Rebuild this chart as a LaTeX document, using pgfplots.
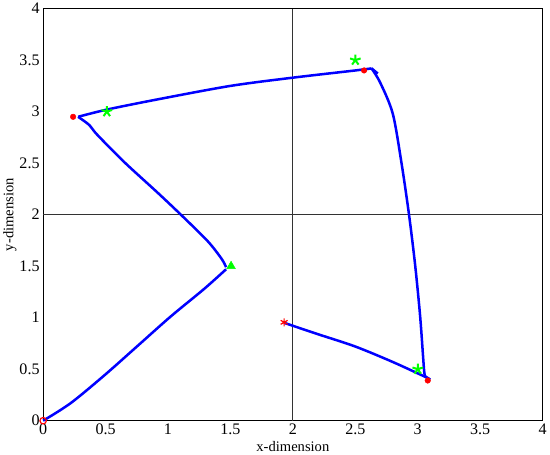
\documentclass[border=0pt]{standalone}
\usepackage{fontspec}
\setmainfont{Liberation Serif}
\usepackage{pgfplots}
\pgfplotsset{compat=1.18}
\begin{document}
\begin{tikzpicture}
\begin{axis}[
	width=497pt,
	height=410pt,
	scale only axis,
	xmin=0, xmax=4,
	ymin=0, ymax=4,
	xtick={0,0.5,...,4},
	ytick={0,0.5,...,4},
	major tick length=0pt,
	/pgf/number format/assume math mode=true,
	ticklabel style={font=\fontsize{16}{18}\selectfont},
	label style={font=\fontsize{14.5}{16}\selectfont},
	xlabel={x-dimension},
	ylabel={y-dimension},
	xlabel style={yshift=1pt},
	ylabel style={yshift=-4pt},
	axis line style={line width=0.8pt},
	clip=false]

	% quadrant lines
	\addplot[black!80, line width=1pt] coordinates {(2,0) (2,4)};
	\addplot[black!80, line width=1pt] coordinates {(0,2) (4,2)};

	% trajectory
	\addplot[blue, line width=2.5pt, smooth, tension=0.5] coordinates {
		(0,0) (0.22,0.17) (0.49,0.44) (0.76,0.73) (1.02,1.01) (1.29,1.28) (1.465,1.47)};
	\addplot[blue, line width=2.5pt, smooth, tension=0.5] coordinates {
		(1.465,1.49) (1.43,1.57) (1.32,1.74) (1.12,1.98) (0.92,2.21) (0.65,2.51) (0.43,2.78) (0.37,2.87) (0.28,2.95)};
	\addplot[blue, line width=2.5pt, smooth, tension=0.5] coordinates {
		(0.28,2.95) (0.51,3.02) (0.92,3.12) (1.5,3.25) (2.0,3.33) (2.5,3.40) (2.63,3.42)};
	\addplot[blue, line width=2.5pt] coordinates {(2.63,3.42) (2.68,3.37)};
	\addplot[blue, line width=2.5pt, smooth, tension=0.5] coordinates {
		(2.63,3.42) (2.7,3.28) (2.8,2.98) (2.87,2.5) (2.93,2.0) (2.98,1.5) (3.02,1.0) (3.05,0.5) (3.06,0.43)};
	\addplot[blue, line width=2.5pt] coordinates {(3.06,0.43) (3.1,0.40)};
	\addplot[blue, line width=2.5pt, smooth, tension=0.5] coordinates {
		(3.07,0.42) (2.8,0.57) (2.5,0.72) (2.2,0.84) (1.93,0.95)};

	% measured points
	\addplot[only marks, red, mark=*, mark size=2.8pt] coordinates {
		(0.24,2.95) (2.57,3.40) (3.08,0.39)};
	\addplot[only marks, red, mark=o, mark size=3.2pt, line width=1.2pt] coordinates {(0,0)};
	\addplot[only marks, red, mark=asterisk, mark size=4pt, line width=1.2pt] coordinates {(1.93,0.955)};

	% targets
	\addplot[only marks, green, mark=star, mark size=5.5pt, mark options={line width=2pt}] coordinates {
		(0.51,3.0) (2.5,3.5) (3.0,0.5)};
	\addplot[only marks, green, mark=triangle*, mark size=5pt] coordinates {(1.505,1.5)};
\end{axis}
\end{tikzpicture}
\end{document}
